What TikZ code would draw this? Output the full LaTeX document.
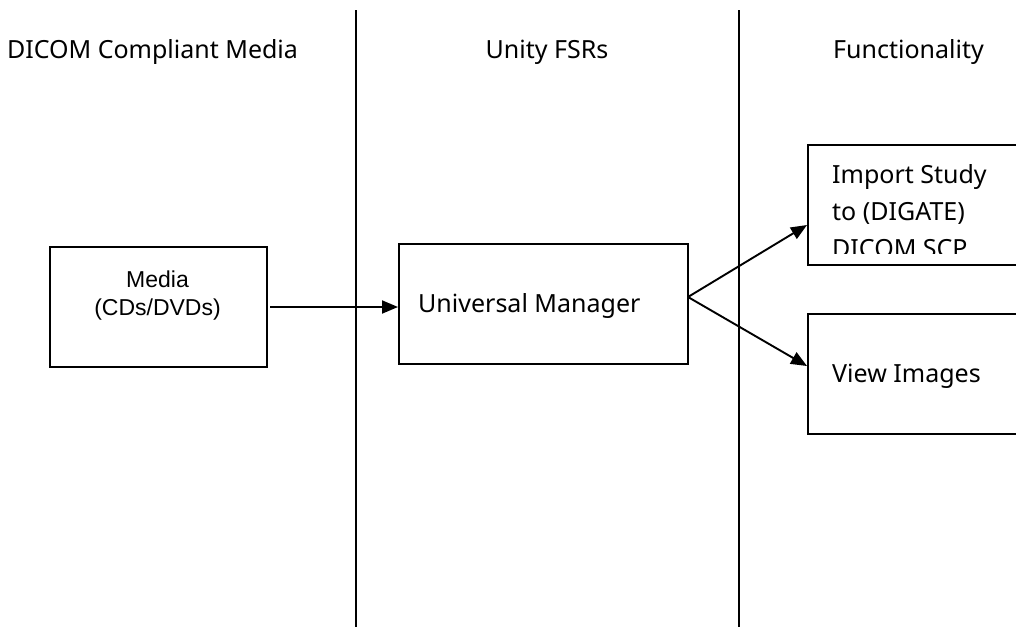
\documentclass[tikz,border=0pt]{standalone}
\usepackage{fontspec}
\setmainfont{Noto Sans}
\newfontfamily\arialfont{Liberation Sans}
\usetikzlibrary{arrows.meta}
\tikzset{
  box/.style={draw, line width=1.9pt, inner sep=0pt, anchor=north west},
  lane/.style={line width=1.9pt},
  conn/.style={line width=1.9pt, -{Triangle[length=16pt,width=13pt]}},
  head/.style={font=\fontsize{25}{30}\selectfont, inner sep=0pt, anchor=base},
  lbl/.style={font=\fontsize{25}{30}\selectfont, inner sep=0pt, anchor=base west},
  alb/.style={font=\arialfont\fontsize{23}{27}\selectfont, inner sep=0pt, anchor=base}
}
\begin{document}
\begin{tikzpicture}[x=1pt,y=-1pt]
\useasboundingbox (0,0) rectangle (1016,627);
\fill[white] (0,0) rectangle (1016,627);
% lanes
\coordinate (l1t) at (356,10); \coordinate (l1b) at (356,627);
\coordinate (l2t) at (739,10); \coordinate (l2b) at (739,627);
\draw[lane] (l1t) -- (l1b);
\draw[lane] (l2t) -- (l2b);
% headers
\node[head] (h1) at (152.5,58) {DICOM Compliant Media};
\node[head] (h2) at (547,58) {Unity FSRs};
\node[head] (h3) at (908.5,58) {Functionality};
% boxes
\node[box, minimum width=217pt, minimum height=120pt] (media) at (49,246) {};
\node[alb] (mt1) at (157.5,287) {Media};
\node[alb] (mt2) at (157.5,315) {(CDs/DVDs)};
\node[box, minimum width=289pt, minimum height=120pt] (um) at (398,243) {};
\node[lbl] (umt) at (418,312) {Universal Manager};
\node[box, minimum width=210pt, minimum height=120pt] (imp) at (807,144) {};
\begin{scope}
\clip (807,144) rectangle (1016,253);
\node[lbl] (it1) at (832,183) {Import Study};
\node[lbl] (it2) at (832,220) {to (DIGATE)};
\node[lbl] (it3) at (832,257) {DICOM SCP};
\end{scope}
\node[box, minimum width=210pt, minimum height=120pt] (view) at (807,313) {};
\node[lbl] (vt) at (832,382) {View Images};
% connectors
\coordinate (ms) at (270,307);
\draw[conn] (ms) -- (um.west |- ms);
\coordinate (us) at (688,297);
\draw[conn] (us) -- (imp.west |- 0,225);
\draw[conn] (us) -- (view.west |- 0,366);
\end{tikzpicture}
\end{document}
